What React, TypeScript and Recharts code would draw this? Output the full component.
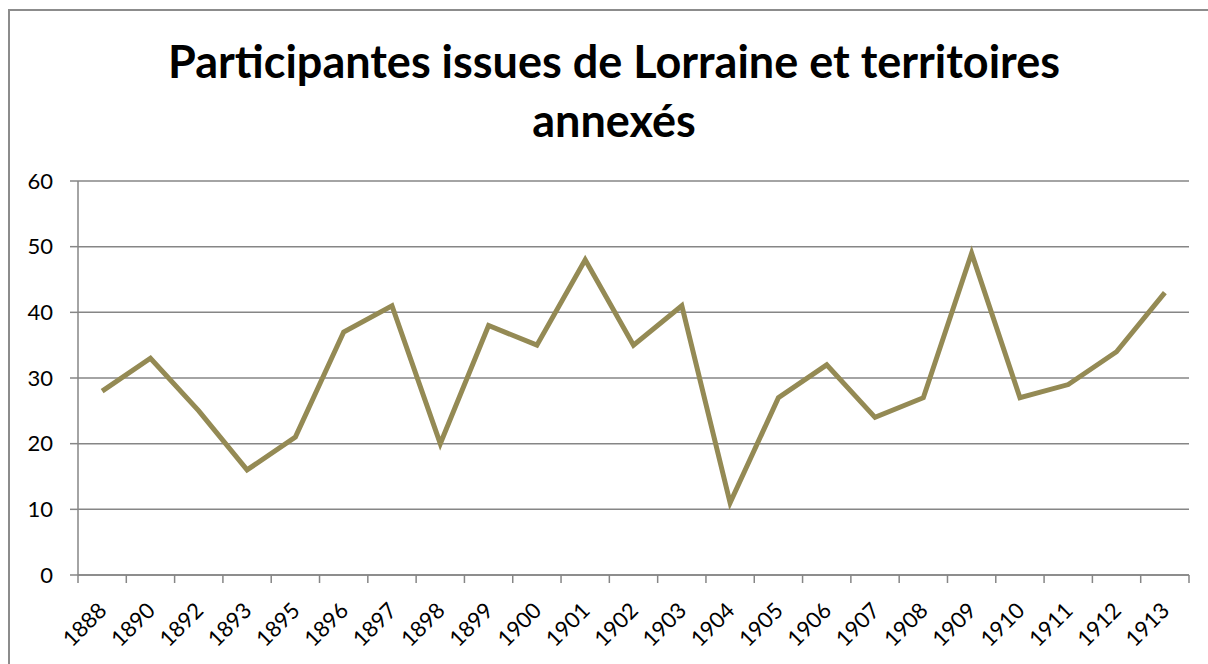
import React from 'react';
import { LineChart, Line, XAxis, YAxis, CartesianGrid } from 'recharts';

const years = ['1888','1890','1892','1893','1895','1896','1897','1898','1899','1900','1901','1902','1903','1904','1905','1906','1907','1908','1909','1910','1911','1912','1913'];
const participants = [28,33,25,16,21,37,41,20,38,35,48,35,41,11,27,32,24,27,49,27,29,34,43];
const yTicks = [0,10,20,30,40,50,60];
const titleLines = ['Participantes issues de Lorraine et territoires', 'annexés'];

const data = years.map((y, i) => ({ year: y, value: participants[i] }));

const W = 1208;
const H = 664;
const M = { top: 181, right: 19, bottom: 0, left: 0 };
const Y_W = 78;
const X_H = 89;
const plotW = W - M.left - M.right - Y_W;
const band = plotW / years.length;
const FONT = 'Lato, "Open Sans", sans-serif';
const AXIS = '#868686';

const XTick = (props: any) => {
  const { x, y, payload, index } = props;
  const left = x - band / 2;
  const last = index === years.length - 1;
  const tx = x + 6;
  const ty = y + 37;
  return (
    <g>
      <line x1={left} y1={y} x2={left} y2={y + 8} stroke={AXIS} strokeWidth={1.5} />
      {last && <line x1={x + band / 2} y1={y} x2={x + band / 2} y2={y + 8} stroke={AXIS} strokeWidth={1.5} />}
      <text x={tx} y={ty} transform={`rotate(-45, ${tx}, ${ty})`} textAnchor="end" fontSize={22} fontFamily={FONT} fill="#000">
        {payload.value}
      </text>
    </g>
  );
};

export default function App() {
  return (
    <div style={{ position: 'absolute', left: 0, top: 0, width: W, height: H, background: '#fff', overflow: 'hidden' }}>
      <div style={{ position: 'absolute', left: 8, top: 9, width: 1300, height: 800, borderLeft: '2px solid #8c8c8c', borderTop: '2px solid #8c8c8c' }} />
      <div style={{ position: 'absolute', left: 0, top: 32, width: 1228, textAlign: 'center', fontFamily: FONT, fontWeight: 700, fontSize: 45, lineHeight: '59px', color: '#000' }}>
        {titleLines.map((t) => (<div key={t}>{t}</div>))}
      </div>
      <div style={{ position: 'absolute', left: 0, top: 0 }}>
        <LineChart width={W} height={H} data={data} margin={M}>
          <CartesianGrid vertical={false} stroke={AXIS} strokeWidth={1.5} />
          <XAxis dataKey="year" height={X_H} padding={{ left: band / 2, right: band / 2 }} tickSize={0} tickMargin={0} tickLine={false} axisLine={{ stroke: AXIS, strokeWidth: 1.5 }} tick={<XTick />} interval={0} />
          <YAxis width={Y_W} domain={[0, 60]} ticks={yTicks} tickSize={8} tickMargin={17} axisLine={{ stroke: AXIS, strokeWidth: 1.5 }} tickLine={{ stroke: AXIS, strokeWidth: 1.5 }} tick={{ fill: '#000', fontSize: 22, fontFamily: FONT }} interval={0} />
          <Line type="linear" dataKey="value" stroke="#948A54" strokeWidth={5} dot={false} isAnimationActive={false} />
        </LineChart>
      </div>
    </div>
  );
}
